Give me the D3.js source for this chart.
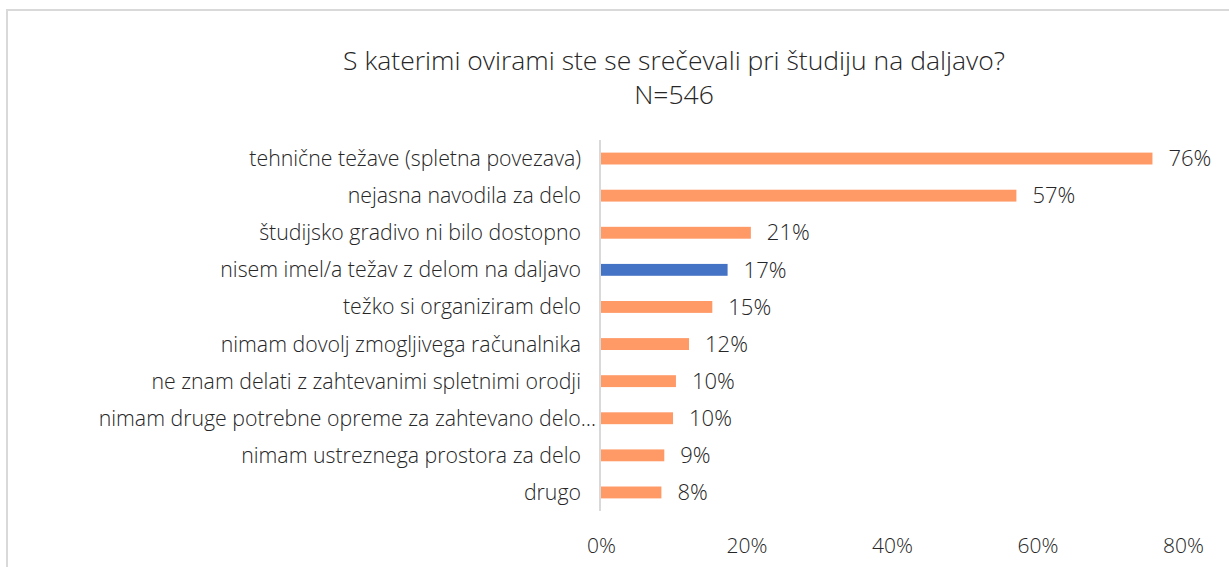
<!DOCTYPE html>
<html><head><meta charset="utf-8">
<script src="https://cdn.jsdelivr.net/npm/d3@7"></script>
<style>
html,body{margin:0;padding:0;background:#fff;}
svg text{font-family:"Open Sans","Noto Sans",sans-serif;font-weight:300;fill:#262626;}
</style></head>
<body>
<svg id="chart" width="1229" height="567"></svg>
<script>
const titleLines = ["S katerimi ovirami ste se srečevali pri študiju na daljavo?", "N=546"];
const categories = [
  "tehnične težave (spletna povezava)",
  "nejasna navodila za delo",
  "študijsko gradivo ni bilo dostopno",
  "nisem imel/a težav z delom na daljavo",
  "težko si organiziram delo",
  "nimam dovolj zmogljivega računalnika",
  "ne znam delati z zahtevanimi spletnimi orodji",
  "nimam druge potrebne opreme za zahtevano delo…",
  "nimam ustreznega prostora za delo",
  "drugo"
];
const values = [0.758, 0.571, 0.206, 0.174, 0.153, 0.121, 0.103, 0.099, 0.087, 0.083];
const highlight = ["nisem imel/a težav z delom na daljavo"];
const xTicks = [0, 0.2, 0.4, 0.6, 0.8];

const svg = d3.select("#chart");
// frame
svg.append("rect").attr("x", 7).attr("y", 10).attr("width", 1240).attr("height", 600)
  .attr("fill", "none").attr("stroke", "#d9d9d9").attr("stroke-width", 2);

const x = d3.scaleLinear().domain([0, 0.8]).range([601, 1183]);
const y = d3.scaleBand().domain(categories).range([140, 511]).paddingInner(0.68).paddingOuter(0.34);

// title
svg.selectAll("text.title").data(titleLines).join("text").attr("class", "title")
  .attr("x", 674).attr("y", (d, i) => 70 + i * 34)
  .attr("text-anchor", "middle").style("font-size", "26.5px").text(d => d);

// bars
svg.selectAll("rect.bar").data(categories).join("rect").attr("class", "bar")
  .attr("x", x(0)).attr("y", d => y(d))
  .attr("width", (d, i) => x(values[i]) - x(0)).attr("height", y.bandwidth())
  .attr("fill", d => highlight.includes(d) ? "#4472C4" : "#FF9966");

// axis line
svg.append("line").attr("x1", 600).attr("x2", 600).attr("y1", 140).attr("y2", 511)
  .attr("stroke", "#d9d9d9").attr("stroke-width", 2);

// category labels
svg.selectAll("text.cat").data(categories).join("text").attr("class", "cat")
  .attr("x", d => d.endsWith("…") ? 596 : 581).attr("y", d => y(d) + y.bandwidth() / 2)
  .attr("dy", "0.35em").attr("text-anchor", "end").style("font-size", "21.3px")
  .text(d => d);

// value labels
svg.selectAll("text.val").data(categories).join("text").attr("class", "val")
  .attr("x", (d, i) => x(values[i]) + 16).attr("y", d => y(d) + y.bandwidth() / 2)
  .attr("dy", "0.35em").style("font-size", "22px")
  .text((d, i) => d3.format(".0%")(values[i]));

// x axis tick labels
const xAxis = d3.axisBottom(x).tickValues(xTicks).tickFormat(d3.format(".0%")).tickSize(0).tickPadding(0);
const gx = svg.append("g").attr("transform", "translate(0,538)").call(xAxis);
gx.select(".domain").remove();
gx.selectAll("text").style("font-size", "21px").style("font-family", null).attr("fill", null);
</script>
</body></html>
